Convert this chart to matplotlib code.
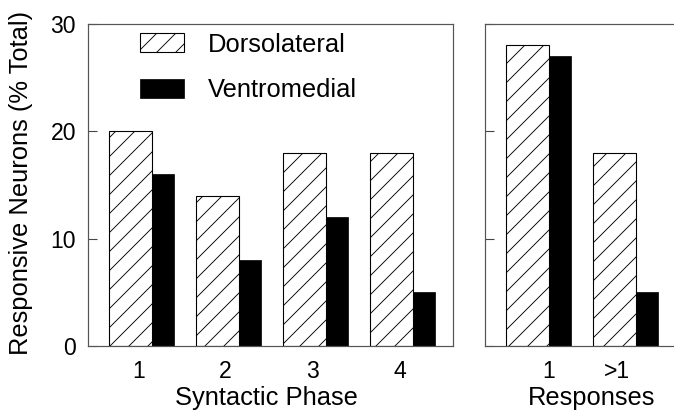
import matplotlib
matplotlib.use("Agg")
import matplotlib.pyplot as plt
import numpy as np

DPI = 114


def pt(px):
    return px * 72.0 / DPI


plt.rcParams['font.family'] = ['Liberation Sans', 'DejaVu Sans']
plt.rcParams['hatch.linewidth'] = pt(0.9)
plt.rcParams['hatch.color'] = '#333333'

# Data
phases = ["1", "2", "3", "4"]
dorso_phase = [20, 14, 18, 18]
ventro_phase = [16, 8, 12, 5]

responses = ["1", ">1"]
dorso_resp = [28, 18]
ventro_resp = [27, 5]

series_names = ["Dorsolateral", "Ventromedial"]
yticks = [0, 10, 20, 30]

W, H = 674, 415
fig = plt.figure(figsize=(W / DPI, H / DPI), dpi=DPI)

ax1 = fig.add_axes([88 / W, 69 / H, 365 / W, 322 / H])
ax2 = fig.add_axes([485 / W, 69 / H, 189 / W, 322 / H])

hw, bw = 0.494, 0.253
TICK_PX = 23
LABEL_PX = 25.5


def draw(ax, d, v, xlim):
    g = np.arange(len(d))
    b1 = ax.bar(g - 0.372, d, width=hw, align='edge', facecolor='white',
                edgecolor='black', linewidth=pt(1.1), hatch='//', label=series_names[0])
    b2 = ax.bar(g - 0.372 + hw, v, width=bw, align='edge', facecolor='black',
                edgecolor='black', linewidth=pt(0.7), label=series_names[1])
    ax.set_xlim(*xlim)
    ax.set_ylim(0, 30)
    ax.set_yticks(yticks)
    ax.tick_params(axis='y', direction='in', length=pt(9), width=pt(1.1), color='#444444',
                   labelsize=pt(TICK_PX), pad=pt(12))
    ax.tick_params(axis='x', length=0, labelsize=pt(TICK_PX), pad=pt(14))
    for s in ax.spines.values():
        s.set_color('#555555')
        s.set_linewidth(pt(1.2))
    return b1, b2


b1, b2 = draw(ax1, dorso_phase, ventro_phase, (-0.613, 3.582))
ax1.set_xticks(np.arange(len(phases)) - 0.03)
ax1.set_xticklabels(phases)
ax1.set_xlabel("Syntactic Phase", fontsize=pt(LABEL_PX))
ax1.set_ylabel("Responsive Neurons (% Total)", fontsize=pt(LABEL_PX))

draw(ax2, dorso_resp, ventro_resp, (-0.613, 1.559))
ax2.set_xticks([0.12, 0.90])
ax2.set_xticklabels(responses)
ax2.set_yticklabels([])
ax2.spines['right'].set_visible(False)
ax2.set_xlabel("Responses", fontsize=pt(LABEL_PX))
ax2.xaxis.set_label_coords(0.566, -0.125)
ax1.xaxis.set_label_coords(0.49, -0.125)
ax1.yaxis.set_label_coords(-0.15, 0.505)

leg = ax1.legend(handles=[b1, b2], loc='upper left',
                 bbox_to_anchor=(52 / 365, 1 - 8.5 / 322), frameon=False,
                 fontsize=pt(LABEL_PX), handlelength=1.72, handleheight=0.8,
                 handletextpad=0.95, labelspacing=0.85, borderpad=0, borderaxespad=0)

fig.savefig("out.png", dpi=DPI)
